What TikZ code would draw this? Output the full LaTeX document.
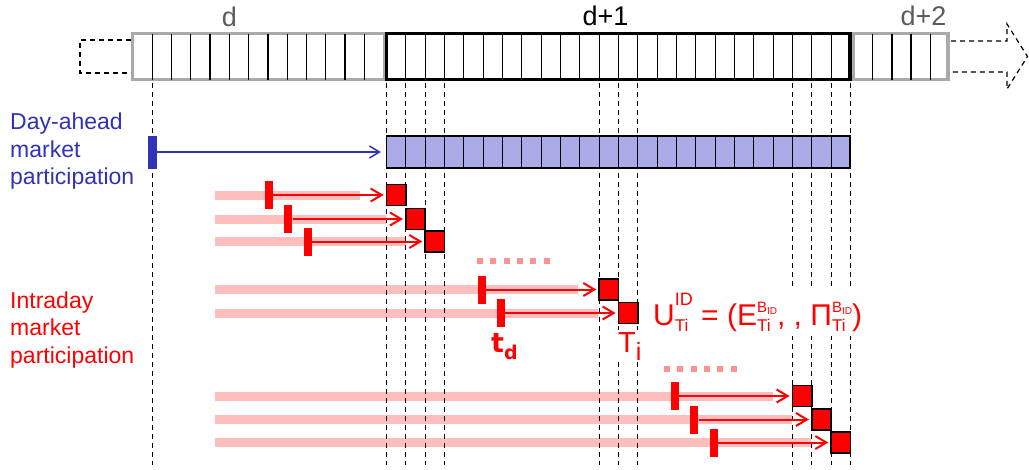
\documentclass[tikz,border=0pt]{standalone}
\usepackage{fontspec}
\setmainfont{Liberation Sans}
\newfontfamily\tdfont{DejaVu Sans}
\usetikzlibrary{arrows.meta}

\definecolor{dablue}{RGB}{50,50,185}
\definecolor{dafill}{RGB}{170,170,232}
\definecolor{idpink}{RGB}{255,190,190}
\definecolor{iddot}{RGB}{255,145,145}
\definecolor{daygray}{RGB}{170,170,170}
\definecolor{lblgray}{RGB}{90,90,90}

% sub #1, sup #2, sup raised by #3
\newcommand{\supsub}[3]{\begingroup
  \setbox0\hbox{\fontsize{17}{17}\selectfont #1}%
  \setbox2\hbox{#2}%
  \ifdim\wd0<\wd2 \setbox0\hbox to\wd2{\unhbox0\hfil}\fi
  \rlap{\raisebox{#3}{\box2}}\raisebox{-0.23em}{\box0}\endgroup}
\newcommand{\supid}{{\fontsize{18}{18}\selectfont ID}}
\newcommand{\bid}{{\fontsize{15}{15}\selectfont B\raisebox{-0.15em}{\fontsize{10}{10}\selectfont ID}}}

\begin{document}
\begin{tikzpicture}[x=1pt, y=-1pt,
  cell/.style={line width=1.3pt},
  vdash/.style={line width=1.2pt, dash pattern=on 5pt off 4pt},
  idbar/.style={idpink, line width=9pt},
  iddots/.style={iddot, line width=6pt, dash pattern=on 6pt off 7.3pt},
  mk/.style={fill=red, minimum width=8pt, minimum height=28pt, inner sep=0pt},
  sq/.style={draw=black, line width=1.8pt, fill=red, minimum width=19.33pt, minimum height=21pt, inner sep=0pt},
  idarr/.style={red, line width=2pt, -{Straight Barb[length=11pt,width=13pt]}, shorten >=2pt},
  lbl/.style={inner sep=0pt, anchor=base, font=\fontsize{27}{32}\selectfont}]

  %% ════ day strip d / d+1 / d+2 ════
  \draw[line width=3.2pt, daygray] (132.5,33.5) rectangle (384.5,79.5);
  \foreach \k in {0,...,11} \draw[cell] (152.3+19.27*\k,33.5) -- ++(0,46);
  \draw[line width=3.2pt, daygray] (853.5,33.5) rectangle (948,79.5);
  \foreach \k in {0,...,3} \draw[cell] (872.7+19.2*\k,33.5) -- ++(0,46);
  \foreach \k in {1,...,23} \draw[cell] (386.5+19.333*\k,33.5) -- ++(0,46);
  \draw[line width=3.2pt] (386.5,33.5) rectangle (850,79.5);
  \draw[vdash] (131,40) -- (80,40) -- (80,73) -- (131,73);
  \draw[vdash] (951,41) -- (1007,41) -- (1007,24) -- (1027.5,56.5) -- (1007,89) -- (1007,72) -- (951,72);

  %% ════ pink bars (under the dashed lines) ════
  \foreach \y/\e in {195/360, 219/386, 241.5/406, 289.5/578, 313/598, 396/773, 419.5/792, 442.5/811}
    \draw[idbar] (215,\y) -- (\e,\y);

  %% ════ dashed hour lines ════
  \draw[vdash] (152.3,83) -- (152.3,465);
  \foreach \k in {0,1,2,3,11,12,13,21,22,23,24}
    \draw[vdash] (386.5+19.333*\k,83) -- (386.5+19.333*\k,465);

  %% ════ day-ahead ════
  \node[draw=black, line width=1.2pt, fill=dafill, minimum width=463.5pt, minimum height=32pt, inner sep=0pt] (dabar) at (618.25,152) {};
  \foreach \k in {1,...,23} \draw[cell] (386.5+19.333*\k,136) -- ++(0,32);
  \node[fill=dablue, minimum width=8.5pt, minimum height=33pt, inner sep=0pt] (dam) at (152.5,152) {};
  \draw[dablue, line width=1.5pt, -{Straight Barb[length=10pt,width=12pt]}, shorten >=5pt] (dam) -- (dabar);

  %% ════ intraday: gate marker -> delivery square ════
  \draw[iddots] (477,261) -- (550,261);
  \draw[iddots] (664,369) -- (737,369);
  \foreach \i/\y/\k in {1/195/0, 2/219/1, 3/241.5/2, 4/289.5/11, 5/313/12, 6/396/21, 7/419.5/22, 8/442.5/23}{
    \pgfmathsetmacro\tx{386.5+19.333*\k}
    \node[sq] (sq\i) at (\tx+9.667,\y) {};
    \node[mk] (mk\i) at (\tx-117.5,\y) {};
    \draw[idarr] (mk\i) -- (sq\i);
  }

  %% ════ labels ════
  \node[lbl, text=lblgray] (lbld) at (229.5,26) {d};
  \node[lbl] (lbld1) at (605.5,25) {d+1};
  \node[lbl, text=lblgray] (lbld2) at (923.5,25) {d+2};
  \node[anchor=west, inner sep=0pt, align=left, text=dablue, font=\fontsize{23}{27.5}\selectfont] (datxt) at (10,151.5) {Day-ahead\\market\\participation};
  \node[anchor=west, inner sep=0pt, align=left, text=red, font=\fontsize{23}{27.5}\selectfont] (idtxt) at (10,330) {Intraday\\market\\participation};
  \node[inner sep=0pt, anchor=base west, text=red, font=\tdfont\bfseries\fontsize{27}{32}\selectfont] (td) at (491,352) {t\raisebox{-7pt}{\fontsize{19}{19}\selectfont d}};
  \node[fill=white, inner xsep=3pt, inner ysep=2pt, anchor=base west, text=red, font=\fontsize{29}{34}\selectfont] (ti) at (615,352) {T\raisebox{-8pt}{\fontsize{25}{25}\selectfont i}};
  \node[fill=white, inner sep=4pt, anchor=base west, text=red, font=\fontsize{30}{36}\selectfont] (uid) at (649,325)
    {U\supsub{Ti}{\supid}{0.66em} = (E\supsub{Ti}{\bid}{0.42em}, , Π\supsub{Ti}{\bid}{0.42em})};

  \pgfresetboundingbox
  \path[use as bounding box] (0,0) rectangle (1029,469);
\end{tikzpicture}
\end{document}
